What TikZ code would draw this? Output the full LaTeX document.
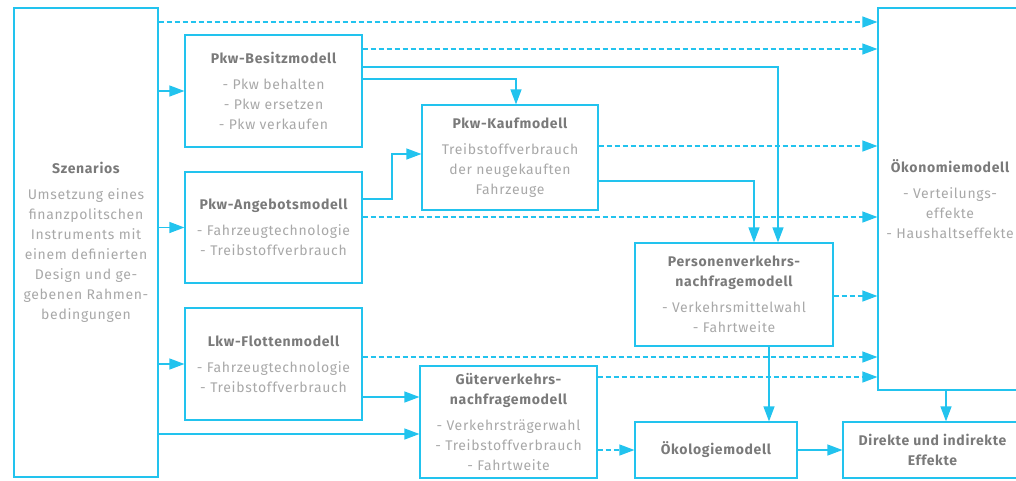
\documentclass[tikz,border=0pt]{standalone}
\usepackage{fontspec}
\setmainfont{Fira Sans}[LetterSpace=4.8]
\usetikzlibrary{arrows.meta}
\definecolor{cyanline}{HTML}{22C3EE}
\definecolor{titlegrey}{HTML}{7A7A7A}
\definecolor{bodygrey}{HTML}{A8A8A8}
\newcommand{\ttl}[1]{{\color{titlegrey}\bfseries #1}}
\tikzset{
  box/.style={draw=cyanline, line width=1.2pt, align=center, inner sep=0pt,
    text=bodygrey, font=\fontsize{14}{20}\selectfont},
  conn/.style={draw=cyanline, line width=1.2pt, -{Triangle[length=15pt,width=11pt]}},
  dconn/.style={conn, dash pattern=on 5pt off 3pt},
}
\begin{document}
\begin{tikzpicture}[x=1pt,y=-1pt]
\useasboundingbox (0,0) rectangle (1016,480);
\begin{scope}
\clip (0,0) rectangle (1016,480);
\node[box, minimum width=144pt, minimum height=469pt] (szen) at (86,242.5)
  {\ttl{Szenarios}\\[6pt] Umsetzung eines\\ finanzpolitschen\\ Instruments mit\\ einem definierten\\ Design und ge-\\ gebenen Rahmen-\\ bedingungen};
\node[box, minimum width=177pt, minimum height=112pt] (besitz) at (273.5,91)
  {\ttl{Pkw-Besitzmodell}\\[6pt] - Pkw behalten\\ - Pkw ersetzen\\ - Pkw verkaufen};
\node[box, minimum width=177pt, minimum height=111pt] (ang) at (273.5,227.5)
  {\ttl{Pkw-Angebotsmodell}\\[6pt] - Fahrzeugtechnologie\\ - Treibstoffverbrauch};
\node[box, minimum width=177pt, minimum height=112pt] (lkw) at (273.5,364)
  {\ttl{Lkw-Flottenmodell}\\[6pt] - Fahrzeugtechnologie\\ - Treibstoffverbrauch};
\node[box, minimum width=176pt, minimum height=105pt] (kauf) at (510,157.5)
  {\ttl{Pkw-Kaufmodell}\\[6pt] Treibstoffverbrauch\\ der neugekauften\\ Fahrzeuge};
\node[box, minimum width=177pt, minimum height=112pt] (gueter) at (508.5,422)
  {\ttl{Güterverkehrs-}\\ \ttl{nachfragemodell}\\[6pt] - Verkehrsträgerwahl\\ - Treibstoffverbrauch\\ - Fahrtweite};
\node[box, minimum width=198pt, minimum height=103pt] (pers) at (734,294.5)
  {\ttl{Personenverkehrs-}\\ \ttl{nachfragemodell}\\[6pt] - Verkehrsmittelwahl\\ - Fahrtweite};
\node[box, minimum width=162pt, minimum height=56pt] (oekol) at (716,450)
  {\ttl{Ökologiemodell}};
\node[box, minimum width=144pt, minimum height=382pt] (oek) at (950,199)
  {\ttl{Ökonomiemodell}\\[6pt] - Verteilungs-\\ effekte\\ - Haushaltseffekte};
\node[box, minimum width=179pt, minimum height=56pt] (direkt) at (932.5,450)
  {\ttl{Direkte und indirekte}\\ \ttl{Effekte}};
% solid connectors
\draw[conn] (szen.east |- besitz.west) -- (besitz.west);
\draw[conn] (szen.east |- ang.west) -- (ang.west);
\draw[conn] (szen.east |- lkw.west) -- (lkw.west);
\draw[conn] (szen.east |- 0,434) -- (gueter.west |- 0,434);
\draw[conn] (lkw.east |- 0,397) -- (gueter.west |- 0,397);
\draw[conn] (besitz.east |- 0,67) -| (pers.north -| 778,0);
\draw[conn] (besitz.east |- 0,79) -| (kauf.north -| 516,0);
\draw[conn] (ang.east |- 0,199) -- (392,199) |- (kauf.west |- 0,154);
\draw[conn] (kauf.east |- 0,181) -| (pers.north -| 754,0);
\draw[conn] (pers.south -| 769,0) -- (oekol.north -| 769,0);
\draw[conn] (oekol.east) -- (direkt.west);
\draw[conn] (oek.south -| 946,0) -- (direkt.north -| 946,0);
% dashed connectors
\draw[dconn] (szen.east |- 0,22) -- (oek.west |- 0,22);
\draw[dconn] (besitz.east |- 0,49) -- (oek.west |- 0,49);
\draw[dconn] (kauf.east |- 0,146) -- (oek.west |- 0,146);
\draw[dconn] (ang.east |- 0,217) -- (oek.west |- 0,217);
\draw[dconn] (pers.east |- 0,296) -- (oek.west |- 0,296);
\draw[dconn] (lkw.east |- 0,357) -- (oek.west |- 0,357);
\draw[dconn] (gueter.east |- 0,377) -- (oek.west |- 0,377);
\draw[dconn] (gueter.east |- oekol.west) -- (oekol.west);
\end{scope}
\end{tikzpicture}
\end{document}
